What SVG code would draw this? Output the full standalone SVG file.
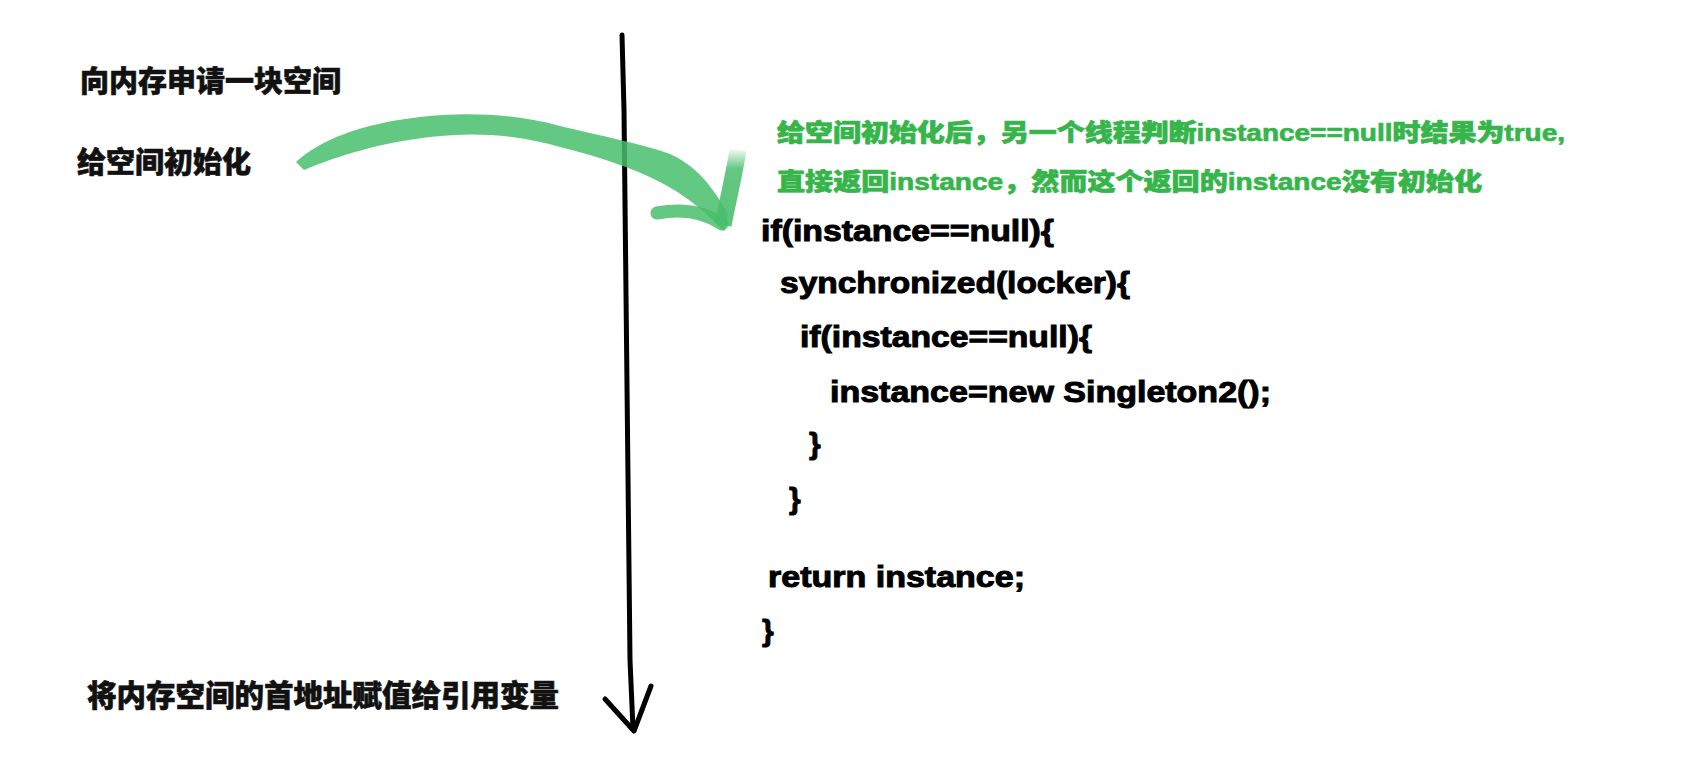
<svg xmlns="http://www.w3.org/2000/svg" width="1684" height="765" viewBox="0 0 1684 765">
<style>
.cn{font-family:"Liberation Sans","Noto Sans CJK SC",sans-serif;font-weight:900;font-size:29px;fill:#111;stroke:#111;stroke-width:0.6px}
.gr{font-family:"Liberation Sans","Noto Sans CJK SC",sans-serif;font-weight:900;font-size:24px;fill:#35b54a;stroke:#35b54a;stroke-width:0.7px}
.code{font-family:"Liberation Sans","Noto Sans CJK SC",sans-serif;font-weight:bold;font-size:30px;fill:#000;stroke:#000;stroke-width:1px}
.ink{fill:none;stroke:#000;stroke-width:5;stroke-linecap:round;stroke-linejoin:round}
.brush{fill:#48be6c;fill-opacity:0.85}
.brushs{fill:none;stroke:#48be6c;stroke-opacity:0.85;stroke-linecap:round}
</style>
<defs>
<linearGradient id="fade" x1="0" y1="1" x2="0" y2="0">
<stop offset="0" stop-color="#48be6c" stop-opacity="0.9"/>
<stop offset="0.75" stop-color="#48be6c" stop-opacity="0.85"/>
<stop offset="1" stop-color="#48be6c" stop-opacity="0.1"/>
</linearGradient>
</defs>
<rect width="1684" height="765" fill="#fff"/>

<g id="steps">
<text class="cn" x="80" y="92">向内存申请一块空间</text>
<text class="cn" x="77" y="173">给空间初始化</text>
<text class="cn" x="87" y="706" style="font-size:29.5px">将内存空间的首地址赋值给引用变量</text>
</g>

<g id="note">
<text class="gr" x="777" y="141" textLength="788" lengthAdjust="spacingAndGlyphs">给空间初始化后，另一个线程判断instance==null时结果为true,</text>
<text class="gr" x="777" y="190" textLength="705" lengthAdjust="spacingAndGlyphs">直接返回instance，然而这个返回的instance没有初始化</text>
</g>

<g id="code">
<text class="code" x="761" y="241" textLength="293" lengthAdjust="spacingAndGlyphs">if(instance==null){</text>
<text class="code" x="780" y="293" textLength="350" lengthAdjust="spacingAndGlyphs">synchronized(locker){</text>
<text class="code" x="800" y="347" textLength="292" lengthAdjust="spacingAndGlyphs">if(instance==null){</text>
<text class="code" x="830" y="402" textLength="441" lengthAdjust="spacingAndGlyphs">instance=new Singleton2();</text>
<text class="code" x="809" y="454">}</text>
<text class="code" x="789" y="509">}</text>
<text class="code" x="768" y="587" textLength="257" lengthAdjust="spacingAndGlyphs">return instance;</text>
<text class="code" x="762" y="641">}</text>
</g>

<g id="connectors">
<g id="timeline">
<path class="ink" d="M622,35 L624,110 L630,660 L633,729"/>
<path class="ink" d="M605,699 L634,731 L651,686"/>
</g>
<g id="green-arrow">
<path class="brush" d="M296,162 C320,140 360,124 420,117 C470,111 520,115 560,126 C600,136 640,143 670,154 C695,165 712,185 728,214 L724,231 C705,212 690,198 660,182 C630,167 600,157 560,147 C520,136 480,131 430,137 C380,143 340,155 304,170 Z"/>
<path d="M723,225 C728,200 734,175 738,150" fill="none" stroke="url(#fade)" stroke-width="17" stroke-linecap="butt"/>
<path class="brushs" d="M657,213 C678,209 702,210 722,224" stroke-width="13"/>
</g>
</g>
</svg>
